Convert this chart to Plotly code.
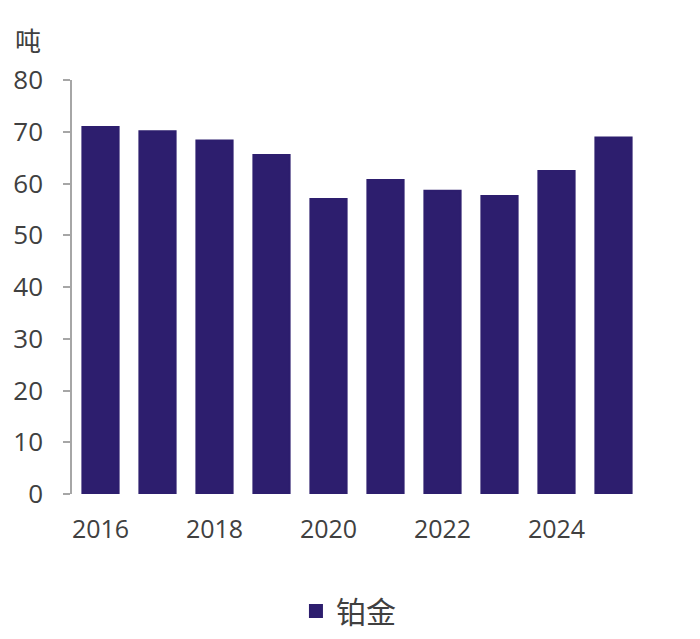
import plotly.graph_objects as go

# Platinum, tonnes per year
YEARS = [2016, 2017, 2018, 2019, 2020, 2021, 2022, 2023, 2024, 2025]
PLATINUM = [70.9, 70.1, 68.3, 65.5, 57.0, 60.7, 58.6, 57.6, 62.4, 68.9]
Y_TICKS = [0, 10, 20, 30, 40, 50, 60, 70, 80]
X_TICKS = [2016, 2018, 2020, 2022, 2024]

BAR_COLOR = '#2d1e6e'
TEXT_COLOR = '#404040'
AXIS_COLOR = '#a6a6a6'
FONT = 'Open Sans, Noto Sans CJK SC, sans-serif'
CJK_FONT = 'Noto Sans CJK SC'

fig = go.Figure()

# same-colour outline also makes the legend swatch a little bigger
fig.add_trace(go.Bar(
    x=YEARS,
    y=PLATINUM,
    name='铂金',
    marker=dict(color=BAR_COLOR, line=dict(color=BAR_COLOR, width=2)),
    width=0.635,
))

# unit label above the y axis
fig.add_annotation(
    xref='paper', yref='paper',
    x=-0.078, y=1.097,
    text='吨',
    showarrow=False,
    font=dict(family=CJK_FONT, size=26, color=TEXT_COLOR),
    xanchor='center', yanchor='middle',
)

# page has an 8px body margin, so size the figure to fit inside the window
fig.update_layout(
    width=684, height=623,
    paper_bgcolor='white',
    plot_bgcolor='white',
    font=dict(family=FONT, size=25, color=TEXT_COLOR),
    margin=dict(l=64, r=50, t=72, b=137),
    showlegend=True,
    legend=dict(
        orientation='h',
        x=0.485, xanchor='center',
        yref='container',
        y=0.032, yanchor='middle',
        font=dict(family=CJK_FONT, size=30, color=TEXT_COLOR),
        itemwidth=30,
    ),
)

fig.update_xaxes(
    range=[2015.5, 2025.5],
    tickvals=X_TICKS,
    ticktext=[str(v) for v in X_TICKS],
    showgrid=False,
    zeroline=False,
    showline=False,
    ticks='',
    ticklabelstandoff=18,
    tickfont=dict(family=FONT, size=25, color=TEXT_COLOR),
    automargin=False,
)

fig.update_yaxes(
    range=[0, 80],
    tickvals=Y_TICKS,
    showgrid=False,
    zeroline=False,
    showline=True,
    linecolor=AXIS_COLOR,
    linewidth=1.5,
    ticks='outside',
    ticklen=7,
    tickwidth=1.5,
    tickcolor=AXIS_COLOR,
    ticklabelstandoff=15,
    tickfont=dict(family=FONT, size=26, color=TEXT_COLOR),
    automargin=False,
)

fig.write_html("out.html")
